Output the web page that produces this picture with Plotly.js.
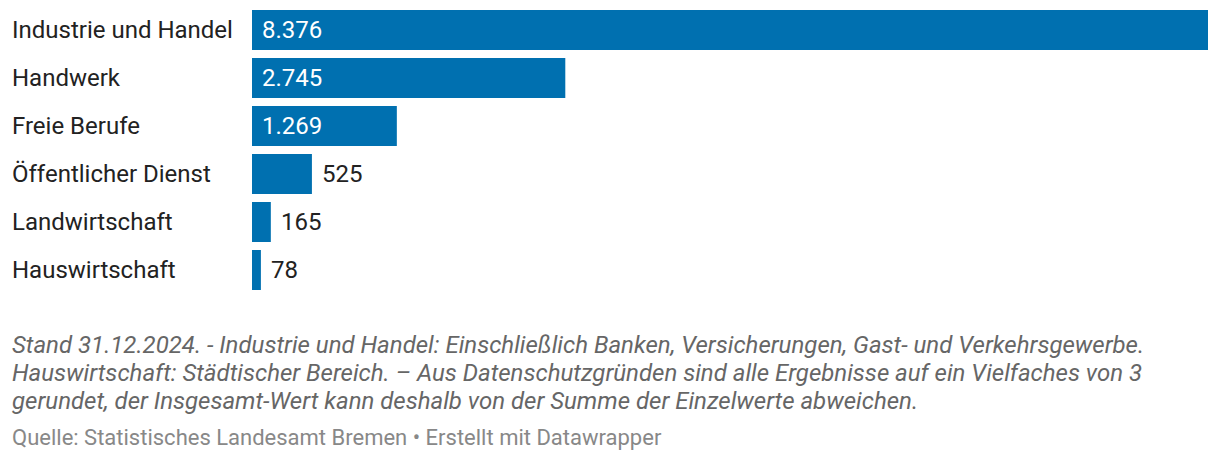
<!DOCTYPE html>
<html><head><meta charset="utf-8">
<script src="https://cdn.plot.ly/plotly-3.0.1.min.js"></script>
<style>html,body{margin:0;padding:0;background:#fff}#c{width:1220px;height:460px}</style>
</head><body><div id="c"></div>
<script>
const categories = ["Industrie und Handel","Handwerk","Freie Berufe","Öffentlicher Dienst","Landwirtschaft","Hauswirtschaft"];
const values = [8376, 2745, 1269, 525, 165, 78];
const notes = [
  "Stand 31.12.2024. - Industrie und Handel: Einschließlich Banken, Versicherungen, Gast- und Verkehrsgewerbe.",
  "Hauswirtschaft: Städtischer Bereich. – Aus Datenschutzgründen sind alle Ergebnisse auf ein Vielfaches von 3",
  "gerundet, der Insgesamt-Wert kann deshalb von der Summe der Einzelwerte abweichen."
];
const source = "Quelle: Statistisches Landesamt Bremen • Erstellt mit Datawrapper";

function fmt(v){ return String(v).replace(/\B(?=(\d{3})+(?!\d))/g, "."); }

const W=1220,H=460, L=252, R=12, T=6, B=166;
const plotW=W-L-R, plotH=H-T-B;
const maxV=Math.max(...values);
const font="Roboto, sans-serif";
const lx=(12-L)/plotW;

const ann=[];
categories.forEach((c,i)=>{
  ann.push({xref:'paper',yref:'y',x:lx,xshift:-2,y:c,xanchor:'left',yanchor:'middle',text:c,showarrow:false,
    font:{family:font,size:24,color:'#222'}});
  const inside = values[i]/maxV > 0.12;
  ann.push({xref:'x',yref:'y',x:inside?0:values[i],y:c,xanchor:'left',yanchor:'middle',xshift:8,
    text:fmt(values[i]),showarrow:false,font:{family:font,size:24,color:inside?'#fff':'#222'}});
});
const ys=[345,373,401];
notes.forEach((n,i)=>{
  ann.push({xref:'paper',yref:'paper',x:lx,xshift:-2,y:(H-B-ys[i])/plotH,xanchor:'left',yanchor:'middle',
    text:'<i>'+n+'</i>',showarrow:false,font:{family:font,size:24,color:'#666'}});
});
ann.push({xref:'paper',yref:'paper',x:lx,xshift:-2,y:(H-B-437)/plotH,xanchor:'left',yanchor:'middle',
  text:source,showarrow:false,font:{family:font,size:22,color:'#888'}});

Plotly.newPlot('c',[{type:'bar',orientation:'h',y:categories,x:values,marker:{color:'#0070b0'},hoverinfo:'none'}],{
  width:W,height:H,margin:{l:L,r:R,t:T,b:B,pad:0},
  paper_bgcolor:'#fff',plot_bgcolor:'#fff',bargap:8/48,
  xaxis:{range:[0,maxV],showgrid:false,zeroline:false,showticklabels:false,showline:false,fixedrange:true},
  yaxis:{autorange:'reversed',showticklabels:false,showgrid:false,zeroline:false,showline:false,fixedrange:true},
  annotations:ann,showlegend:false
},{staticPlot:true,displayModeBar:false});
</script></body></html>
